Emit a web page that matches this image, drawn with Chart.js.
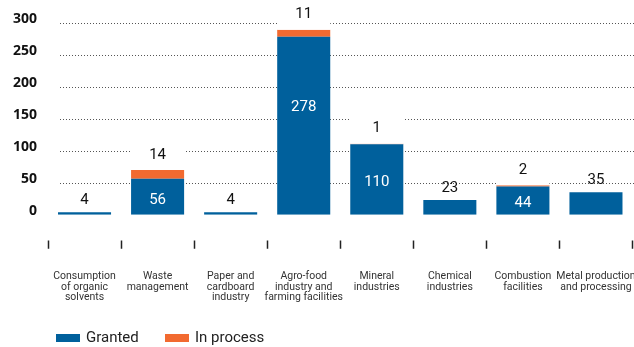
<!DOCTYPE html>
<html>
<head>
<meta charset="utf-8">
<script src="https://cdn.jsdelivr.net/npm/chart.js@4.4.1/dist/chart.umd.min.js"></script>
<style>
    html, body { margin: 0; padding: 0; background: #fff; }
    #wrap { width: 634px; height: 347px; }
</style>
</head>
<body>
<div id="wrap"><canvas id="permitsChart"></canvas></div>
<script>
// Permits by sector
const categories = [
    ['Consumption', 'of organic', 'solvents'],
    ['Waste', 'management'],
    ['Paper and', 'cardboard', 'industry'],
    ['Agro-food', 'industry and', 'farming facilities'],
    ['Mineral', 'industries'],
    ['Chemical', 'industries'],
    ['Combustion', 'facilities'],
    ['Metal production', 'and processing']
];
const granted = [4, 56, 4, 278, 110, 23, 44, 35];
const inProcess = [0, 14, 0, 11, 1, 0, 2, 0];
const yTicks = [0, 50, 100, 150, 200, 250, 300];
const seriesNames = ['Granted', 'In process'];

const BLUE = '#00609c';
const ORANGE = '#f26a30';
const FONT = 'Roboto, "Open Sans", sans-serif';

// Dotted gridlines, value labels and legend
const decorPlugin = {
    id: 'decor',
    beforeDatasetsDraw(chart) {
        const { ctx, scales: { y } } = chart;
        ctx.save();
        ctx.strokeStyle = '#555';
        ctx.lineWidth = 1;
        ctx.setLineDash([1, 2]);
        y.ticks.forEach(t => {
            if (t.value === 0) return;
            const py = Math.round(y.getPixelForValue(t.value)) + 0.5;
            ctx.beginPath();
            ctx.moveTo(60, py);
            ctx.lineTo(chart.width, py);
            ctx.stroke();
        });
        ctx.restore();
    },
    afterDatasetsDraw(chart) {
        const { ctx } = chart;
        const gMeta = chart.getDatasetMeta(0);
        const pMeta = chart.getDatasetMeta(1);
        ctx.save();
        ctx.font = '15px ' + FONT;
        ctx.textAlign = 'center';
        ctx.textBaseline = 'middle';
        granted.forEach((v, i) => {
            const gBar = gMeta.data[i];
            const pBar = pMeta.data[i];
            const x = gBar.x;
            const w = gBar.width;
            const top = inProcess[i] > 0 ? pBar.y : gBar.y;

            if (inProcess[i] > 0) {
                const ly = top - 15;
                ctx.fillStyle = '#fff';
                ctx.fillRect(x - w / 2, ly - 11, w, top - (ly - 11));
                ctx.fillStyle = '#111';
                ctx.fillText(String(inProcess[i]), x, ly);
            }

            if (v >= 40) {
                const ly = Math.min((gBar.y + gBar.base) / 2 + 3, gBar.y + 70);
                ctx.fillStyle = '#fff';
                ctx.fillText(String(v), x, ly);
            } else {
                ctx.fillStyle = '#111';
                ctx.fillText(String(v), x, top - 12);
            }
        });
        ctx.restore();
    },
    afterDraw(chart) {
        const { ctx } = chart;
        const colors = [BLUE, ORANGE];
        const boxX = [56, 165];
        ctx.save();
        ctx.font = '15px ' + FONT;
        ctx.textBaseline = 'middle';
        ctx.textAlign = 'left';
        seriesNames.forEach((name, i) => {
            ctx.fillStyle = colors[i];
            ctx.fillRect(boxX[i], 334, 24, 8);
            ctx.fillStyle = '#222';
            ctx.fillText(name, boxX[i] + 30, 338);
        });
        ctx.restore();
    }
};

new Chart(document.getElementById('permitsChart'), {
    type: 'bar',
    data: {
        labels: categories,
        datasets: [
            { label: seriesNames[0], data: granted, backgroundColor: BLUE, borderWidth: 0 },
            { label: seriesNames[1], data: inProcess, backgroundColor: ORANGE, borderWidth: 0 }
        ]
    },
    options: {
        responsive: true,
        maintainAspectRatio: false,
        animation: false,
        barPercentage: 0.726,
        categoryPercentage: 1,
        layout: { padding: { top: 22.7, right: 1.5, bottom: 32, left: 0 } },
        plugins: {
            legend: { display: false },
            tooltip: { enabled: false }
        },
        scales: {
            x: {
                stacked: true,
                border: { display: false },
                grid: {
                    drawOnChartArea: false,
                    drawTicks: true,
                    tickLength: 34,
                    tickColor: '#222',
                    tickWidth: 1.5,
                    tickBorderDash: [0, 25.5, 8.5, 200]
                },
                ticks: {
                    padding: 22,
                    color: '#333',
                    maxRotation: 0,
                    autoSkip: false,
                    font: { family: FONT, size: 10.5, lineHeight: 1.03 }
                },
                afterFit(scale) {
                    // let the last label run off the edge instead of shrinking the plot
                    scale.height = 100.3;
                    scale.paddingLeft = 0;
                    scale.paddingRight = 0;
                }
            },
            y: {
                stacked: true,
                min: 0,
                max: 300,
                border: { display: false },
                grid: { display: false, drawTicks: false },
                afterBuildTicks(scale) {
                    scale.ticks = yTicks.map(v => ({ value: v }));
                },
                ticks: {
                    padding: 11,
                    labelOffset: -4,
                    color: '#111',
                    font: { family: '"Open Sans", sans-serif', size: 14, weight: 'bold' }
                },
                afterFit(scale) { scale.width = 48; }
            }
        }
    },
    plugins: [decorPlugin]
});
</script>
</body>
</html>
